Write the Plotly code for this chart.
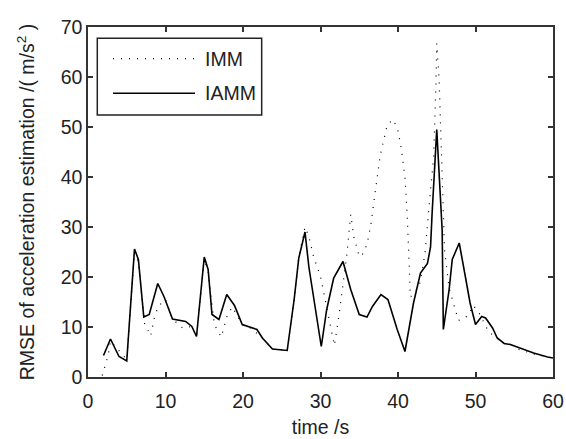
import plotly.graph_objects as go

# IAMM series (solid)
iamm_t = [2, 2.9, 4, 5, 6, 6.5, 7.2, 7.9, 9, 9.8, 10.9, 12.6, 13.4, 14, 15, 15.5, 16, 16.9,
          17.9, 18.9, 19.9, 20.8, 21.8, 22.5, 23.8, 25.7, 26.6, 27.2, 28, 28.5, 29.4, 30.1,
          30.8, 31.7, 32.9, 33.9, 35, 36, 36.7, 37.8, 38.7, 39.9, 40.9, 42, 42.9, 43.8, 44.2,
          44.4, 45, 45.3, 45.7, 45.85, 46.6, 47, 47.9, 48.7, 49.3, 50, 50.8, 51.3, 52.2, 52.8,
          53.7, 54.5, 55.8, 57.5, 59.3, 60]
iamm_v = [4.3, 7.6, 4.1, 3.2, 25.6, 23.5, 12, 12.5, 18.7, 16.1, 11.6, 11.1, 10.1, 8.1, 24, 21.5,
          12.5, 11.5, 16.5, 14.3, 10.5, 10, 9.5, 7.8, 5.6, 5.3, 15.5, 23.8, 29, 22, 13.5, 6.1,
          13.5, 19.8, 23.1, 17.5, 12.5, 12, 14.1, 16.5, 15.5, 9.5, 5.1, 14.8, 20.8, 22.7, 26,
          32.7, 49.5, 40, 29.3, 9.5, 17.5, 23.5, 26.8, 20, 14.8, 10.5, 12.1, 11.8, 9.8, 7.8,
          6.7, 6.5, 5.8, 4.8, 4, 3.8]

# IMM series (dotted)
imm_t = [1.83, 2.6, 2.9, 4.2, 5, 6, 6.5, 7.3, 8.1, 8.6, 9.1, 10, 10.9, 12.2, 13.4, 14, 15, 15.5,
         16.3, 17.2, 17.9, 18.6, 19.9, 20.8, 21.8, 22.5, 23.8, 25.7, 26.6, 27.2, 28, 28.5, 29.1,
         30, 30.8, 31.5, 31.8, 32.4, 32.9, 33.4, 33.9, 34.3, 35, 35.4, 36, 36.5, 37, 37.7, 38.6,
         39.3, 39.9, 40.4, 40.9, 41.2, 41.6, 42.7, 43.1, 43.5, 44, 44.6, 44.9, 45, 45.3, 45.6,
         45.8, 46, 46.6, 47.4, 47.8, 49.1, 49.7, 50.4, 51, 51.7, 52.8, 53.7, 54.5, 55.6, 57.5,
         59.3, 60]
imm_v = [0.3, 4.3, 7.2, 5, 3.5, 25, 23, 10.7, 8.2, 12.2, 14.2, 15.5, 11.6, 9.8, 10.1, 8.1, 23.5,
         21, 10.5, 8, 12, 14, 10.5, 10, 8.8, 7.8, 5.6, 5.3, 15.5, 24, 30, 28.1, 24.1, 20.1, 13.9,
         8.3, 6.3, 12.5, 18.5, 24.5, 32.5, 28, 24.1, 24.5, 26.5, 30.5, 36.3, 44.3, 50.3, 51.5,
         50, 46, 40, 32, 16, 18, 21, 25, 34, 44, 58.7, 66.7, 59.7, 43.7, 33, 25.5, 17.7, 13.3,
         11.3, 12.3, 14.3, 13, 11.1, 9, 7.8, 6.7, 6.5, 5.5, 4.6, 4, 3.8]

series_names = ["IMM", "IAMM"]
x_ticks = [0, 10, 20, 30, 40, 50, 60]
y_ticks = [0, 10, 20, 30, 40, 50, 60, 70]

FONT = "Liberation Sans, Arial, sans-serif"
FS = 19.5
DOT = "1px,7px"

fig = go.Figure()
fig.add_trace(go.Scatter(x=imm_t, y=imm_v, mode="lines", name=series_names[0],
                         line=dict(color="black", width=1.2, dash=DOT), showlegend=False))
fig.add_trace(go.Scatter(x=iamm_t, y=iamm_v, mode="lines", name=series_names[1],
                         line=dict(color="black", width=1.6), showlegend=False))

axis_common = dict(showline=True, linecolor="#333", linewidth=1.5, mirror="ticks",
                   ticks="inside", ticklen=5, tickwidth=1.5, tickcolor="#333",
                   showgrid=False, zeroline=False, automargin=False,
                   tickfont=dict(family=FONT, size=FS, color="#222"))

fig.update_layout(
    width=566, height=439,
    margin=dict(l=88, r=13, t=27, b=62),
    paper_bgcolor="white", plot_bgcolor="white",
    font=dict(family=FONT, size=FS, color="#222"),
    xaxis=dict(range=[0, 60], tickvals=x_ticks, ticklabelstandoff=6,
               title=dict(text="time /s", standoff=9, font=dict(family=FONT, size=FS)),
               **axis_common),
    yaxis=dict(range=[0, 70], tickvals=y_ticks,
               title=dict(text="RMSE of acceleration estimation /( m/s<sup>2</sup> )",
                          standoff=21, font=dict(family=FONT, size=FS)),
               **axis_common),
    showlegend=False,
)

# Manual legend box (MATLAB style) in paper coordinates
fig.add_shape(type="rect", xref="paper", yref="paper", x0=0.02, x1=0.3735, y0=0.7486, y1=0.9677,
              line=dict(color="#222", width=1.5), fillcolor="white", layer="above")
legend_rows = [0.9094, 0.8106]
legend_styles = [dict(color="black", width=1.2, dash=DOT), dict(color="black", width=1.6)]
for name, yy, st in zip(series_names, legend_rows, legend_styles):
    fig.add_shape(type="line", xref="paper", yref="paper", x0=0.0538, x1=0.2301, y0=yy, y1=yy,
                  line=st, layer="above")
    fig.add_annotation(xref="paper", yref="paper", x=0.2473, y=yy, text=name, showarrow=False,
                       xanchor="left", yanchor="middle",
                       font=dict(family=FONT, size=FS, color="#222"))

fig.write_html("out.html", config={"displayModeBar": False},
               post_script="document.body.style.margin='0';")
